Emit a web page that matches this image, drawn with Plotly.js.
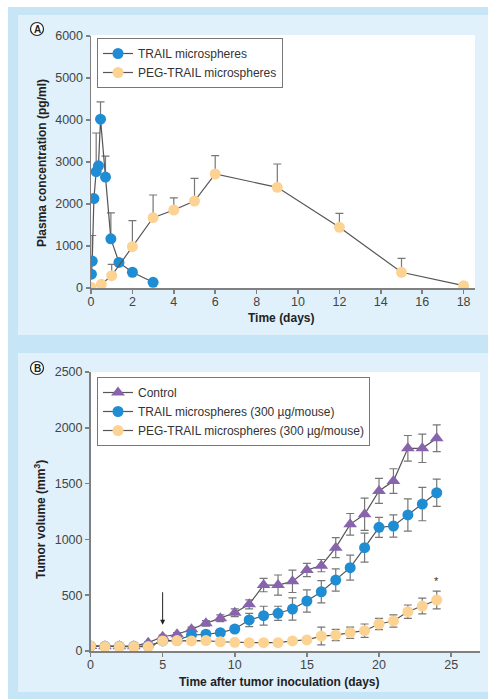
<!DOCTYPE html>
<html>
<head>
<meta charset="utf-8">
<script src="https://cdn.plot.ly/plotly-3.0.1.min.js"></script>
<style>
html,body{margin:0;padding:0;background:#fff;}
#chart{width:488px;height:699px;}
</style>
</head>
<body>
<div id="chart"></div>
<script>
// ---------- Panel A data ----------
const trailTime = [0.02, 0.06, 0.14, 0.25, 0.36, 0.46, 0.70, 0.96, 1.35, 2.0, 3.0];
const trailConc = [330, 640, 2130, 2770, 2910, 4020, 2640, 1170, 610, 375, 135];
const trailConcErr = [0, 610, 0, 920, 0, 410, 500, 620, 0, 0, 0];

const pegTime = [0, 0.5, 1, 2, 3, 4, 5, 6, 9, 12, 15, 18];
const pegConc = [20, 88, 293, 983, 1674, 1857, 2071, 2714, 2397, 1445, 374, 55];
const pegConcErr = [0, 0, 270, 620, 540, 290, 540, 436, 555, 333, 333, 0];

// ---------- Panel B data ----------
const days = [0,1,2,3,4,5,6,7,8,9,10,11,12,13,14,15,16,17,18,19,20,21,22,23,24];
const controlVol = [45,42,42,42,75,128,150,194,248,293,343,418,591,591,624,726,765,926,1135,1225,1434,1523,1816,1816,1906];
const controlErr = [0,0,0,0,10,15,15,20,25,30,35,40,60,90,100,60,55,90,97,145,112,110,115,127,120];
const trailVol = [45,42,42,42,42,90,95,143,150,164,197,278,316,338,376,448,531,636,747,926,1108,1120,1219,1317,1418];
const trailVolErr = [0,0,0,0,0,15,15,20,20,25,30,60,85,63,100,100,100,100,112,130,90,100,145,150,122];
const pegVol = [45,40,40,40,40,90,93,90,93,83,78,75,75,75,90,99,134,143,164,182,242,269,352,403,457];
const pegVolErr = [0,0,0,0,0,15,15,15,15,15,15,15,15,15,15,20,80,50,50,60,50,55,60,70,80];

const legendA = ['TRAIL microspheres', 'PEG-TRAIL microspheres'];
const legendB = ['Control', 'TRAIL microspheres (300 µg/mouse)', 'PEG-TRAIL microspheres (300 µg/mouse)'];

// ---------- styling ----------
const W = 488, H = 699;
const px = v => v / W;
const py = v => 1 - v / H;
const BLUE = '#1f8dd3', PEACH = '#fdd393', PURPLE = '#8864ad';
const LINE = {color: '#555', width: 1.2};
const FONT = 'Liberation Sans, Arial, Helvetica, sans-serif';
const errStyle = {color: '#777', thickness: 1.2, width: 4};

const traces = [
  {x: trailTime, y: trailConc, name: legendA[0], mode: 'lines+markers', line: LINE,
   marker: {size: 11, color: BLUE}, xaxis: 'x', yaxis: 'y', legend: 'legend',
   error_y: Object.assign({type: 'data', symmetric: false, array: trailConcErr, arrayminus: trailConc.map(() => 0)}, errStyle)},
  {x: pegTime, y: pegConc, name: legendA[1], mode: 'lines+markers', line: LINE,
   marker: {size: 11, color: PEACH}, xaxis: 'x', yaxis: 'y', legend: 'legend',
   error_y: Object.assign({type: 'data', symmetric: false, array: pegConcErr, arrayminus: pegConc.map(() => 0)}, errStyle)},
  {x: days, y: controlVol, name: legendB[0], mode: 'lines+markers', line: LINE,
   marker: {size: 12, color: PURPLE, symbol: 'triangle-up'}, xaxis: 'x2', yaxis: 'y2', legend: 'legend2',
   error_y: Object.assign({type: 'data', array: controlErr}, errStyle)},
  {x: days, y: trailVol, name: legendB[1], mode: 'lines+markers', line: LINE,
   marker: {size: 11, color: BLUE}, xaxis: 'x2', yaxis: 'y2', legend: 'legend2',
   error_y: Object.assign({type: 'data', array: trailVolErr}, errStyle)},
  {x: days, y: pegVol, name: legendB[2], mode: 'lines+markers', line: LINE,
   marker: {size: 11, color: PEACH}, xaxis: 'x2', yaxis: 'y2', legend: 'legend2',
   error_y: Object.assign({type: 'data', array: pegVolErr}, errStyle)}
];

const axisCommon = {
  showline: true, linecolor: '#808080', linewidth: 1.5,
  ticks: 'outside', ticklen: 4, tickwidth: 1.5, tickcolor: '#808080',
  showgrid: false, zeroline: false,
  tickfont: {family: FONT, size: 12.5, color: '#444'}
};
const xAxisExtra = {ticklabelstandoff: -3};

const legendCommon = {
  bgcolor: '#fff', bordercolor: '#777', borderwidth: 1,
  font: {family: FONT, size: 12, color: '#333'},
  xanchor: 'left', yanchor: 'top', tracegroupgap: 0, itemwidth: 30
};

const layout = {
  width: W, height: H, autosize: false,
  margin: {l: 0, r: 0, t: 0, b: 0},
  paper_bgcolor: '#fff', plot_bgcolor: 'rgba(0,0,0,0)',
  showlegend: true,
  xaxis: Object.assign({}, axisCommon, xAxisExtra, {domain: [px(91), px(475)], range: [0, 18.55], dtick: 2, tick0: 0, anchor: 'y'}),
  yaxis: Object.assign({}, axisCommon, {domain: [py(288), py(36)], range: [0, 6000], dtick: 1000, tickformat: 'd', anchor: 'x'}),
  xaxis2: Object.assign({}, axisCommon, xAxisExtra, {domain: [px(90.5), px(480)], range: [0, 27], dtick: 5, tick0: 0, anchor: 'y2'}),
  yaxis2: Object.assign({}, axisCommon, {domain: [py(651), py(372)], range: [0, 2500], dtick: 500, tickformat: 'd', anchor: 'x2'}),
  legend: Object.assign({}, legendCommon, {x: px(97), y: py(38)}),
  legend2: Object.assign({}, legendCommon, {x: px(97), y: py(377)}),
  shapes: [
    {type: 'rect', xref: 'paper', yref: 'paper', x0: px(8), x1: 1, y0: 0, y1: py(7), fillcolor: '#c6e6f8', line: {width: 0}, layer: 'below'},
    {type: 'rect', xref: 'paper', yref: 'paper', x0: px(18), x1: 1, y0: py(335), y1: py(15), fillcolor: '#e0f1fb', line: {width: 0}, layer: 'below'},
    {type: 'rect', xref: 'paper', yref: 'paper', x0: px(18), x1: 1, y0: py(692), y1: py(353), fillcolor: '#e0f1fb', line: {width: 0}, layer: 'below'},
    {type: 'rect', xref: 'paper', yref: 'paper', x0: px(91), x1: px(475), y0: py(288), y1: py(35), fillcolor: '#fff', line: {width: 0}, layer: 'below'},
    {type: 'rect', xref: 'paper', yref: 'paper', x0: px(91), x1: px(480), y0: py(651), y1: py(372), fillcolor: '#fff', line: {width: 0}, layer: 'below'},
    {type: 'circle', xref: 'paper', yref: 'paper', x0: px(30.5), x1: px(43.5), y0: py(35.5), y1: py(22.5), fillcolor: '#fff', line: {color: '#222', width: 1.2}},
    {type: 'circle', xref: 'paper', yref: 'paper', x0: px(30.5), x1: px(43.5), y0: py(374.5), y1: py(361.5), fillcolor: '#fff', line: {color: '#222', width: 1.2}}
  ],
  annotations: [
    {xref: 'paper', yref: 'paper', x: px(37), y: py(29), text: '<b>A</b>', showarrow: false, font: {family: FONT, size: 10, color: '#222'}, xanchor: 'center', yanchor: 'middle'},
    {xref: 'paper', yref: 'paper', x: px(37), y: py(368), text: '<b>B</b>', showarrow: false, font: {family: FONT, size: 10, color: '#222'}, xanchor: 'center', yanchor: 'middle'},
    {xref: 'paper', yref: 'paper', x: px(42), y: py(163), text: '<b>Plasma concentration (pg/ml)</b>', textangle: -90, showarrow: false, font: {family: FONT, size: 12, color: '#222'}, xanchor: 'center', yanchor: 'middle'},
    {xref: 'paper', yref: 'paper', x: px(281), y: py(318), text: '<b>Time (days)</b>', showarrow: false, font: {family: FONT, size: 12, color: '#222'}, xanchor: 'center', yanchor: 'middle'},
    {xref: 'paper', yref: 'paper', x: px(40), y: py(520), text: '<b>Tumor volume (mm<sup>3</sup>)</b>', textangle: -90, showarrow: false, font: {family: FONT, size: 12, color: '#222'}, xanchor: 'center', yanchor: 'middle'},
    {xref: 'paper', yref: 'paper', x: px(279), y: py(682), text: '<b>Time after tumor inoculation (days)</b>', showarrow: false, font: {family: FONT, size: 12, color: '#222'}, xanchor: 'center', yanchor: 'middle'},
    {xref: 'x2', yref: 'y2', x: 5, y: 235, ax: 5, ay: 540, axref: 'x2', ayref: 'y2', text: '', showarrow: true, arrowhead: 2, arrowsize: 1, arrowwidth: 1, arrowcolor: '#222'},
    {xref: 'x2', yref: 'y2', x: 24, y: 560, text: '*', showarrow: false, font: {family: FONT, size: 11, color: '#333'}, xanchor: 'center', yanchor: 'bottom'}
  ]
};

Plotly.newPlot('chart', traces, layout, {displayModeBar: false, staticPlot: true});
</script>
</body>
</html>
